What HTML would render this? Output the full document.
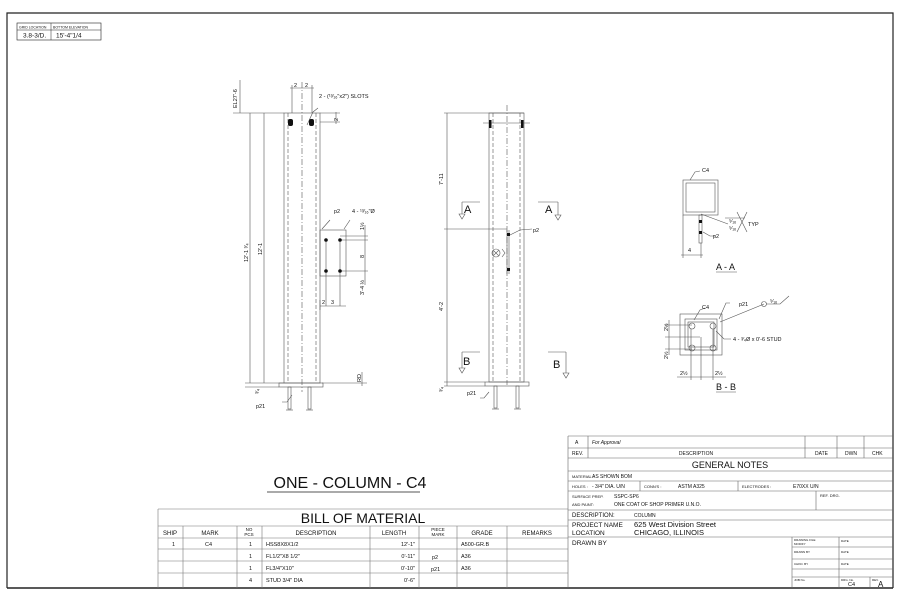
<!DOCTYPE html>
<html><head><meta charset="utf-8"><style>
html,body{margin:0;padding:0;background:#fff;}
svg{display:block;}
text{font-family:"Liberation Sans",sans-serif;fill:#111;}
</style></head><body>
<svg width="900" height="600" viewBox="0 0 900 600" xmlns="http://www.w3.org/2000/svg">
<g fill="none" stroke="#222" stroke-width="0.8">
<polyline points="7,588 7,13 893,13 893,588" stroke-width="1.2"/>
<line x1="7" y1="588" x2="893" y2="588" stroke-width="1.4"/>
<rect x="17" y="23" width="84" height="17" stroke-width="0.6"/>
<line x1="17" y1="30" x2="101" y2="30" stroke-width="0.5"/>
<line x1="51" y1="23" x2="51" y2="40" stroke-width="0.5"/>
</g>
<text x="19" y="28.5" font-size="3.5">GRID LOCATION</text>
<text x="53" y="28.5" font-size="3.5">BOTTOM ELEVATION</text>
<text x="23" y="37.5" font-size="6.5">3.8-3/D.</text>
<text x="56" y="37.5" font-size="6.5">15'-4"1/4</text>

<g fill="none" stroke="#555" stroke-width="0.6">
<rect x="284" y="113" width="36" height="270"/>
<line x1="288" y1="113" x2="288" y2="383" stroke-dasharray="4,2"/>
<line x1="316" y1="113" x2="316" y2="383" stroke-dasharray="4,2"/>
<line x1="302" y1="82" x2="302" y2="392" stroke-dasharray="6,2,1,2"/>
<rect x="279" y="383" width="44" height="4"/>
<rect x="288" y="387" width="3" height="22"/><rect x="308" y="387" width="3" height="22"/>
<line x1="286" y1="410" x2="293" y2="410"/><line x1="306" y1="410" x2="313" y2="410"/>
<line x1="233" y1="113" x2="284" y2="113"/>
<line x1="250" y1="113" x2="250" y2="383"/>
<line x1="264" y1="113" x2="264" y2="383"/>
<line x1="245" y1="383" x2="284" y2="383"/>
<line x1="245" y1="387" x2="279" y2="387"/>
<line x1="240" y1="113" x2="240" y2="80"/>
<line x1="292" y1="85" x2="292" y2="113"/><line x1="312" y1="85" x2="312" y2="113"/>
<line x1="290" y1="88" x2="314" y2="88"/>
<line x1="320" y1="113" x2="340" y2="113"/><line x1="320" y1="122" x2="340" y2="122"/>
<line x1="336" y1="112" x2="336" y2="124"/>
<line x1="322" y1="383" x2="367" y2="383"/><line x1="362" y1="372" x2="362" y2="386"/>
<rect x="320" y="230" width="26" height="46"/>
<line x1="326" y1="240" x2="326" y2="306"/><line x1="340" y1="240" x2="340" y2="306"/>
<line x1="320" y1="306" x2="346" y2="306"/><line x1="320" y1="300" x2="320" y2="310"/>
<line x1="340" y1="236" x2="368" y2="236"/><line x1="340" y1="240" x2="368" y2="240"/>
<line x1="340" y1="271" x2="368" y2="271"/>
<line x1="365" y1="225" x2="365" y2="285"/>
<path d="M322 229 L330 220 M344 229 L350 220 M307 125 L313 112 L318 108"/>
<path d="M292 395 L287 402 L282 402"/>
</g>
<rect x="288" y="119" width="5" height="7" rx="2" fill="#111"/>
<rect x="309" y="119" width="5" height="7" rx="2" fill="#111"/>
<circle cx="326" cy="240" r="1.8" fill="#111"/><circle cx="340" cy="240" r="1.8" fill="#111"/>
<circle cx="326" cy="271" r="1.8" fill="#111"/><circle cx="340" cy="271" r="1.8" fill="#111"/>
<g font-size="5.5">
<text x="294" y="87">2</text><text x="305" y="87">2</text>
<text x="319" y="98">2 - (¹³⁄₁₆"x2") SLOTS</text>
<text x="334" y="213">p2</text><text x="352" y="213">4 - ¹³⁄₁₆"Ø</text>
<text x="322" y="304">2</text><text x="331" y="304">3</text>
<text transform="translate(237,108) rotate(-90)">EL27'-6</text>
<text transform="translate(248,262) rotate(-90)">12'-1 ³⁄₄</text>
<text transform="translate(262,255) rotate(-90)">12'-1</text>
<text transform="translate(364,230) rotate(-90)">1½</text>
<text transform="translate(364,258) rotate(-90)">8</text>
<text transform="translate(364,295) rotate(-90)">3'-4 ½</text>
<text transform="translate(338,121) rotate(-90)">2</text>
<text transform="translate(361,382) rotate(-90)">RD</text>
<text transform="translate(259,394) rotate(-90)">³⁄₄</text>
<text x="256" y="408">p21</text>
</g>

<g fill="none" stroke="#555" stroke-width="0.6">
<rect x="489" y="113" width="35" height="269"/>
<line x1="493" y1="113" x2="493" y2="382" stroke-dasharray="4,2"/>
<line x1="520" y1="113" x2="520" y2="382" stroke-dasharray="4,2"/>
<line x1="507" y1="105" x2="507" y2="385" stroke-dasharray="6,2,1,2"/>
<rect x="485" y="382" width="44" height="4"/>
<rect x="494" y="386" width="3" height="22"/><rect x="516" y="386" width="3" height="22"/>
<line x1="492" y1="409" x2="499" y2="409"/><line x1="514" y1="409" x2="521" y2="409"/>
<line x1="483" y1="123" x2="530" y2="123"/>
<line x1="444" y1="113" x2="524" y2="113"/>
<line x1="447" y1="113" x2="447" y2="386"/>
<line x1="444" y1="229" x2="507" y2="229"/>
<line x1="444" y1="382" x2="485" y2="382"/><line x1="444" y1="386" x2="485" y2="386"/>
<line x1="507" y1="230" x2="507" y2="274"/><line x1="509" y1="230" x2="509" y2="274"/>
<circle cx="496" cy="253" r="4"/><path d="M493 250 L499 256 M499 250 L493 256 M502 249 L505 253 L502 257"/>
<path d="M510 235 L520 230 L532 229"/>
<path d="M462 202 L480 202 M462 202 L462 214 M538 202 L558 202 M558 202 L558 215 M462 352 L480 352 M462 352 L462 368 M548 352 L566 352 M566 352 L566 373 M489 392 L484 398 L480 398"/>
<path d="M459 214 L465 214 L462 219 Z M555 215 L561 215 L558 220 Z M459 368 L465 368 L462 373 Z M563 373 L569 373 L566 378 Z"/>
</g>
<rect x="489" y="120" width="2.5" height="8" fill="#111"/><rect x="521" y="120" width="2.5" height="8" fill="#111"/>
<rect x="507" y="233" width="3" height="3" fill="#111"/><rect x="507" y="268" width="3" height="3" fill="#111"/>
<g font-size="5.5">
<text transform="translate(443,185) rotate(-90)">7'-11</text>
<text transform="translate(443,311) rotate(-90)">4'-2</text>
<text transform="translate(443,392) rotate(-90)">³⁄₄</text>
<text x="533" y="232">p2</text><text x="467" y="395">p21</text>
</g>
<g font-size="11">
<text x="464" y="213">A</text><text x="545" y="213">A</text>
<text x="463" y="365">B</text><text x="553" y="368">B</text>
</g>

<g fill="none" stroke="#555" stroke-width="0.6">
<rect x="683" y="180" width="35" height="35"/>
<rect x="686" y="183" width="29" height="29"/>
<rect x="699" y="215" width="3" height="28"/>
<line x1="683" y1="215" x2="683" y2="258"/><line x1="701" y1="243" x2="701" y2="258"/>
<line x1="681" y1="255" x2="703" y2="255"/>
<path d="M690 180 L695 172 L700 171 M701 214 L728 224 M703 232 L710 236 L715 236"/>
<path d="M725 218 L745 218 M737 212 L747 232 M737 232 L747 212"/>
<line x1="716" y1="272" x2="737" y2="272"/>
</g>
<rect x="699" y="220" width="3" height="3" fill="#111"/><rect x="699" y="231" width="3" height="3" fill="#111"/>
<g font-size="5.5">
<text x="702" y="172">C4</text>
<text x="729" y="223">⁵⁄₁₆</text><text x="729" y="230">⁵⁄₁₆</text>
<text x="748" y="226">TYP</text>
<text x="713" y="238">p2</text>
<text x="688" y="252">4</text>
</g>
<text x="716" y="270" font-size="9">A - A</text>

<g fill="none" stroke="#555" stroke-width="0.6">
<rect x="680" y="314" width="42" height="41"/>
<rect x="685" y="319" width="32" height="31"/>
<rect x="688" y="322" width="26" height="25"/>
<circle cx="692" cy="326" r="3"/><circle cx="713" cy="326" r="3"/>
<circle cx="692" cy="348" r="3"/><circle cx="713" cy="348" r="3"/>
<line x1="665" y1="325" x2="692" y2="325"/><line x1="665" y1="337" x2="700" y2="337"/><line x1="665" y1="349" x2="692" y2="349"/>
<line x1="669" y1="320" x2="669" y2="355"/>
<line x1="691" y1="329" x2="691" y2="380"/><line x1="701" y1="337" x2="701" y2="380"/><line x1="713" y1="329" x2="713" y2="380"/>
<line x1="677" y1="377" x2="726" y2="377"/>
<path d="M694 320 L700 310 L705 308 M719 319 L726 303 L730 303 M716 331 L724 339 L731 339 M720 322 L764 304"/>
<circle cx="764" cy="304" r="2.5"/>
<path d="M766 304 L780 304 L789 296"/>
<line x1="716" y1="392" x2="736" y2="392"/>
</g>
<g font-size="5.5">
<text x="702" y="309">C4</text><text x="739" y="306">p21</text>
<text x="770" y="303">⁵⁄₁₆</text>
<text x="733" y="341">4 - ³⁄₄Ø x 0'-6 STUD</text>
<text transform="translate(668,331) rotate(-90)">2½</text>
<text transform="translate(668,359) rotate(-90)">2½</text>
<text x="680" y="375">2½</text><text x="715" y="375">2½</text>
</g>
<text x="716" y="390" font-size="9">B - B</text>

<text x="350" y="488" font-size="16" text-anchor="middle">ONE - COLUMN - C4</text>
<line x1="267" y1="492" x2="420" y2="492" stroke="#555" stroke-width="1"/>

<g fill="none" stroke="#777" stroke-width="0.6">
<line x1="158" y1="509" x2="568" y2="509"/>
<line x1="158" y1="509" x2="158" y2="588"/>
<line x1="158" y1="526" x2="568" y2="526"/>
<line x1="158" y1="538" x2="568" y2="538"/>
<line x1="158" y1="549" x2="568" y2="549"/>
<line x1="158" y1="561" x2="568" y2="561"/>
<line x1="158" y1="573" x2="568" y2="573"/>
<line x1="183" y1="526" x2="183" y2="588"/>
<line x1="237" y1="526" x2="237" y2="588"/>
<line x1="262" y1="526" x2="262" y2="588"/>
<line x1="370" y1="526" x2="370" y2="588"/>
<line x1="419" y1="526" x2="419" y2="588"/>
<line x1="457" y1="526" x2="457" y2="588"/>
<line x1="507" y1="526" x2="507" y2="588"/>
</g>
<text x="363" y="523" font-size="14" text-anchor="middle">BILL OF MATERIAL</text>
<g font-size="6">
<text x="170" y="535" text-anchor="middle">SHIP</text>
<text x="210" y="535" text-anchor="middle">MARK</text>
<text x="249" y="531" text-anchor="middle" font-size="4.5">NO</text>
<text x="249" y="536" text-anchor="middle" font-size="4.5">PCS</text>
<text x="316" y="535" text-anchor="middle">DESCRIPTION</text>
<text x="394" y="535" text-anchor="middle">LENGTH</text>
<text x="438" y="531" text-anchor="middle" font-size="4.5">PIECE</text>
<text x="438" y="536" text-anchor="middle" font-size="4.5">MARK</text>
<text x="482" y="535" text-anchor="middle">GRADE</text>
<text x="537" y="535" text-anchor="middle">REMARKS</text>
</g>
<g font-size="5.5">
<text x="172" y="546">1</text><text x="205" y="546">C4</text>
<text x="249" y="546">1</text><text x="266" y="546">HSS8X8X1/2</text><text x="415" y="546" text-anchor="end">12'-1"</text><text x="461" y="546">A500-GR.B</text>
<text x="249" y="558">1</text><text x="266" y="558">FL1/2"X8 1/2"</text><text x="415" y="558" text-anchor="end">0'-11"</text><text x="432" y="559">p2</text><text x="461" y="558">A36</text>
<text x="249" y="570">1</text><text x="266" y="570">FL3/4"X10"</text><text x="415" y="570" text-anchor="end">0'-10"</text><text x="431" y="571">p21</text><text x="461" y="570">A36</text>
<text x="249" y="582">4</text><text x="266" y="582">STUD 3/4" DIA</text><text x="415" y="582" text-anchor="end">0'-6"</text>
</g>

<g fill="none" stroke="#666" stroke-width="0.6">
<line x1="568" y1="436" x2="893" y2="436"/>
<line x1="568" y1="436" x2="568" y2="588"/>
<line x1="568" y1="448" x2="893" y2="448"/>
<line x1="568" y1="458" x2="893" y2="458"/>
<line x1="568" y1="471" x2="893" y2="471"/>
<line x1="568" y1="481" x2="893" y2="481"/>
<line x1="568" y1="491" x2="893" y2="491"/>
<line x1="568" y1="510" x2="893" y2="510"/>
<line x1="568" y1="520" x2="893" y2="520"/>
<line x1="568" y1="537" x2="893" y2="537"/>
<line x1="588" y1="436" x2="588" y2="458"/>
<line x1="805" y1="436" x2="805" y2="458"/>
<line x1="837" y1="436" x2="837" y2="458"/>
<line x1="864" y1="436" x2="864" y2="458"/>
<line x1="640" y1="481" x2="640" y2="491"/>
<line x1="738" y1="481" x2="738" y2="491"/>
<line x1="816" y1="491" x2="816" y2="510"/>
<line x1="792" y1="537" x2="792" y2="588"/>
<line x1="839" y1="537" x2="839" y2="588"/>
<line x1="870" y1="577" x2="870" y2="588"/>
<line x1="792" y1="547" x2="893" y2="547"/>
<line x1="792" y1="559" x2="893" y2="559"/>
<line x1="792" y1="569" x2="893" y2="569"/>
<line x1="792" y1="577" x2="893" y2="577"/>
</g>
<g font-size="5">
<text x="575" y="444">A</text><text x="592" y="444" font-style="italic">For Approval</text>
<text x="572" y="455">REV.</text><text x="696" y="455" text-anchor="middle">DESCRIPTION</text>
<text x="815" y="455">DATE</text><text x="845" y="455">DWN</text><text x="872" y="455">CHK</text>
<text x="572" y="478" font-size="4">MATERIAL :</text><text x="592" y="478">AS SHOWN BOM</text>
<text x="572" y="488" font-size="4">HOLES :</text><text x="592" y="488">-  3/4"  DIA. U/N</text>
<text x="644" y="488" font-size="4">CONN'S :</text><text x="678" y="488">ASTM A325</text>
<text x="742" y="488" font-size="4">ELECTRODES :</text><text x="793" y="488">E70XX U/N</text>
<text x="572" y="498" font-size="4">SURFACE PREP.</text><text x="614" y="498">SSPC-SP6</text>
<text x="572" y="506" font-size="4">AND PAINT:</text><text x="614" y="506">ONE COAT OF SHOP PRIMER U.N.O.</text>
<text x="820" y="497" font-size="4">REF. DRG.</text>
<text x="572" y="517" font-size="6">DESCRIPTION:</text><text x="634" y="517">COLUMN</text>
<text x="572" y="527" font-size="6.5">PROJECT NAME</text>
<text x="572" y="535" font-size="6.5">LOCATION</text>
<text x="634" y="527" font-size="7.5">625 West Division Street</text>
<text x="634" y="535" font-size="7.5">CHICAGO, ILLINOIS</text>
<text x="572" y="545" font-size="6.5">DRAWN BY</text>
</g>
<text x="730" y="468" font-size="9" text-anchor="middle">GENERAL NOTES</text>
<g font-size="3">
<text x="794" y="541">DRAWING FILE</text><text x="794" y="545">MODIFY</text>
<text x="794" y="553">DRAWN BY</text><text x="794" y="565">CHKD. BY</text><text x="794" y="581">JOB No.</text>
<text x="841" y="542">DATE</text><text x="841" y="553">DATE</text><text x="841" y="565">DATE</text>
<text x="841" y="581">DRG. No.</text><text x="872" y="581">REV.</text>
</g>
<text x="848" y="586" font-size="5.5">C4</text>
<text x="878" y="587" font-size="8">A</text>
</svg>
</body></html>
